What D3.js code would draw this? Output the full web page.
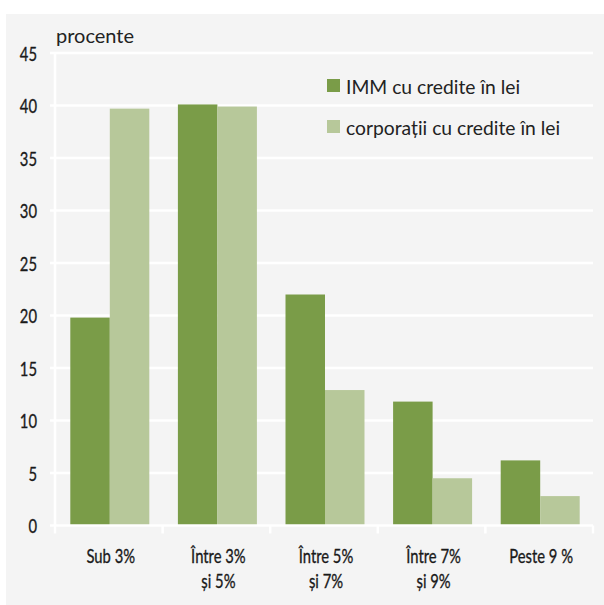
<!DOCTYPE html>
<html>
<head>
<meta charset="utf-8">
<script src="https://cdn.jsdelivr.net/npm/d3@7"></script>
<style>
  html, body { margin: 0; padding: 0; background: #ffffff; }
  svg { display: block; }
  text { font-family: Lato, "Open Sans", sans-serif; }
</style>
</head>
<body>
<svg id="chart" width="604" height="605"></svg>
<script>
const categories = [["Sub 3%"], ["Între 3%", "și 5%"], ["Între 5%", "și 7%"], ["Între 7%", "și 9%"], ["Peste 9 %"]];
const seriesNames = ["IMM cu credite în lei", "corporații cu credite în lei"];
const immValues = [19.8, 40.1, 22.0, 11.8, 6.2];
const corpValues = [39.7, 39.9, 12.9, 4.5, 2.8];
const yTicks = [0, 5, 10, 15, 20, 25, 30, 35, 40, 45];
const colors = ["#7a9c48", "#b7c89a"];
const cond = 0.74;

const svg = d3.select("#chart");
svg.append("rect").attr("x", 6).attr("y", 14).attr("width", 598).attr("height", 591).attr("fill", "#f4f4f4");

const x0 = 55, x1 = 593, yBottom = 525.5, yTop = 53;
const x = d3.scaleBand().domain(d3.range(categories.length)).range([x0, x1]).paddingInner(0).paddingOuter(0);
const xs = d3.scaleBand().domain([0, 1]).range([0, 79]);
const y = d3.scaleLinear().domain([0, 45]).range([yBottom, yTop]);

// gridlines
svg.append("g").selectAll("line").data(yTicks.filter(d => d > 0)).join("line")
  .attr("x1", 50).attr("x2", x1).attr("y1", d => y(d)).attr("y2", d => y(d))
  .attr("stroke", "#ffffff").attr("stroke-width", 2.5);

// y axis
const yAxis = d3.axisLeft(y).tickValues(yTicks).tickSize(0).tickPadding(0);
const gy = svg.append("g").attr("transform", `translate(${x0},0)`).call(yAxis);
gy.select(".domain").remove();
gy.selectAll("text").attr("x", 0).attr("dy", "0.36em")
  .attr("transform", `translate(-18,0) scale(${cond},1)`)
  .attr("fill", "#1a1a1a").attr("stroke", "#1a1a1a").attr("stroke-width", 0.35)
  .style("font-size", "20px").attr("text-anchor", "end")
  .style("font-family", "Lato, sans-serif");

// vertical axis line
svg.append("line").attr("x1", x0).attr("x2", x0).attr("y1", yTop).attr("y2", yBottom)
  .attr("stroke", "#fff").attr("stroke-width", 2.5);

// bars
const data = categories.map((c, i) => [immValues[i], corpValues[i]]);
const groups = svg.append("g").selectAll("g").data(data).join("g")
  .attr("transform", (d, i) => `translate(${x(i) + (x.bandwidth() - 79) / 2 + 1},0)`);
groups.selectAll("rect").data(d => d.map((v, j) => ({v, j}))).join("rect")
  .attr("x", d => xs(d.j)).attr("width", xs.bandwidth())
  .attr("y", d => y(d.v)).attr("height", d => yBottom - y(d.v))
  .attr("fill", d => colors[d.j]);

// x axis
const xAxisScale = d3.scaleLinear().domain([0, categories.length]).range([x0, x1]);
svg.append("line").attr("x1", 50).attr("x2", x1).attr("y1", yBottom).attr("y2", yBottom)
  .attr("stroke", "#fff").attr("stroke-width", 2.5);
svg.append("g").selectAll("line").data(d3.range(categories.length + 1)).join("line")
  .attr("x1", d => xAxisScale(d)).attr("x2", d => xAxisScale(d))
  .attr("y1", yBottom).attr("y2", yBottom + 8).attr("stroke", "#fff").attr("stroke-width", 2.5);

const xl = svg.append("g").selectAll("g").data(categories).join("g")
  .attr("transform", (d, i) => `translate(${x(i) + x.bandwidth() / 2 + 2},562.5) scale(${cond},1)`);
xl.append("text").attr("text-anchor", "middle").attr("fill", "#1a1a1a")
  .attr("stroke", "#1a1a1a").attr("stroke-width", 0.35).style("font-size", "20px")
  .selectAll("tspan").data(d => d).join("tspan")
  .attr("x", 0).attr("dy", (d, i) => i === 0 ? 0 : 25.5).text(d => d);

// y unit label
svg.append("text").attr("x", 56).attr("y", 43)
  .attr("fill", "#222").style("font-size", "20px").text("procente");

// legend
const lg = svg.append("g").selectAll("g").data(seriesNames).join("g")
  .attr("transform", (d, i) => `translate(327,${79 + i * 41})`);
lg.append("rect").attr("width", 13).attr("height", 13).attr("fill", (d, i) => colors[i]);
lg.append("text").attr("x", 19).attr("y", 14.5)
  .attr("fill", "#222").style("font-size", "19.3px").text(d => d);
</script>
</body>
</html>
